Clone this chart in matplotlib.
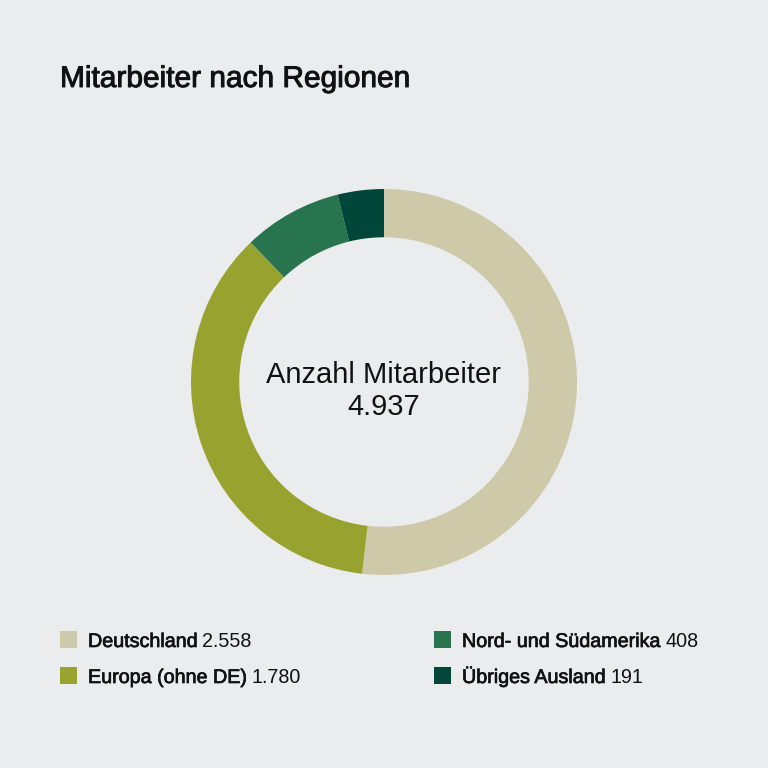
import matplotlib
matplotlib.use("Agg")
import matplotlib.pyplot as plt
from matplotlib.patches import Rectangle
import matplotlib.patheffects as pe

# data
regions = ["Deutschland", "Europa (ohne DE)", "Nord- und Südamerika", "Übriges Ausland"]
counts = [2558, 1780, 408, 191]
count_labels = ["2.558", "1.780", "408", "191"]
colors = ["#CEC9A9", "#98A22F", "#27744F", "#00473A"]
total_label = "4.937"

bg = "#EBECEE"
ink = "#111111"
plt.rcParams["font.family"] = ["Liberation Sans", "DejaVu Sans"]
medium = [pe.withStroke(linewidth=0.7, foreground=ink)]

fig = plt.figure(figsize=(7.68, 7.68), dpi=100, facecolor=bg)

# donut, centre (384, 382) px, outer radius 193 px
ax = fig.add_axes([(384 - 193) / 768, (768 - 382 - 193) / 768, 386 / 768, 386 / 768])
ax.set_facecolor(bg)
ax.pie(counts, colors=colors, startangle=90, counterclock=False, radius=1,
       wedgeprops=dict(width=0.25, edgecolor="none"))
ax.set_xlim(-1, 1)
ax.set_ylim(-1, 1)
ax.set_aspect("equal")
ax.axis("off")

ax.text(0, (382 - 383) / 193, "Anzahl Mitarbeiter", ha="center", va="baseline", fontsize=21, color=ink)
ax.text(0, (382 - 415) / 193, total_label, ha="center", va="baseline", fontsize=21, color=ink)

# title
fig.text(60 / 768, 1 - 87 / 768, "Mitarbeiter nach Regionen", ha="left", va="baseline",
         fontsize=21.5, color=ink, path_effects=medium)

# legend (two columns)
legend_x = [60, 60, 434, 434]
legend_y = [647, 683, 647, 683]
fig.canvas.draw()
renderer = fig.canvas.get_renderer()
for name, num, c, lx, ly in zip(regions, count_labels, colors, legend_x, legend_y):
    fig.patches.append(Rectangle((lx / 768, 1 - (ly + 1) / 768), 17 / 768, 17 / 768,
                                 transform=fig.transFigure, facecolor=c, edgecolor="none"))
    t = fig.text((lx + 28) / 768, 1 - ly / 768, name, ha="left", va="baseline",
                 fontsize=14.2, color=ink, path_effects=[pe.withStroke(linewidth=0.5, foreground=ink)])
    bb = t.get_window_extent(renderer)
    fig.text((bb.x1 + 4) / 768, 1 - ly / 768, num, ha="left", va="baseline",
             fontsize=14.2, color=ink)

fig.savefig("out.png", dpi=100, facecolor=bg)
